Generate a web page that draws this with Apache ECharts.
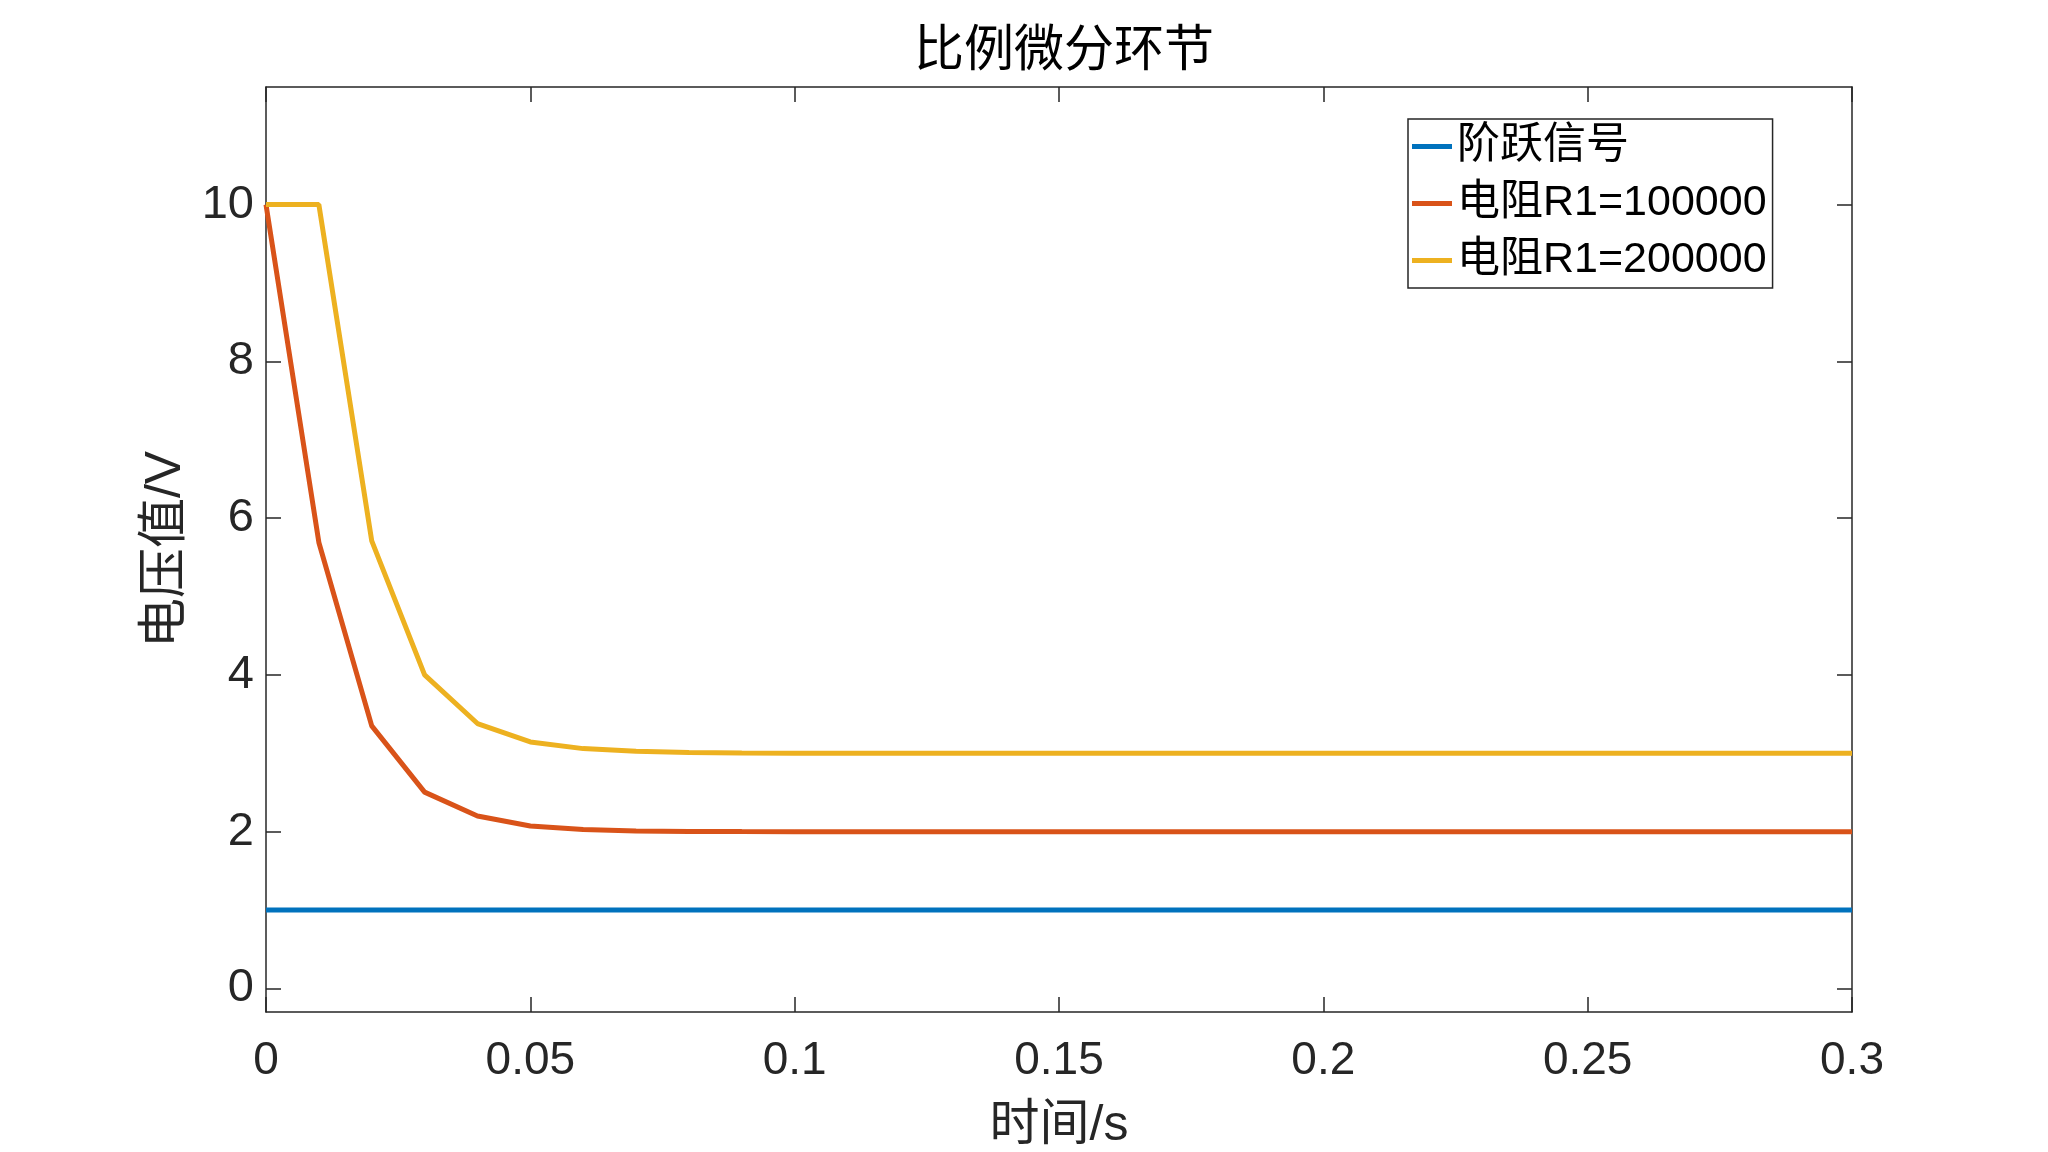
<!DOCTYPE html>
<html>
<head>
<meta charset="utf-8">
<script src="https://cdn.jsdelivr.net/npm/echarts@6/dist/echarts.min.js"></script>
<style>html,body{margin:0;padding:0;background:#fff;}#c{width:2048px;height:1152px;}</style>
</head>
<body>
<div id="c"></div>
<script>
const titleText = '比例微分环节';
const xName = '时间/s';
const yName = '电压值/V';
const seriesNames = ['阶跃信号', '电阻R1=100000', '电阻R1=200000'];
const time = [0, 0.01, 0.02, 0.03, 0.04, 0.05, 0.06, 0.07, 0.08, 0.09, 0.10,
  0.11, 0.12, 0.13, 0.14, 0.15, 0.16, 0.17, 0.18, 0.19, 0.20,
  0.21, 0.22, 0.23, 0.24, 0.25, 0.26, 0.27, 0.28, 0.29, 0.30];
const stepSignal = [1, 1, 1, 1, 1, 1, 1, 1, 1, 1, 1,
  1, 1, 1, 1, 1, 1, 1, 1, 1, 1,
  1, 1, 1, 1, 1, 1, 1, 1, 1, 1];
const r100k = [10, 5.69, 3.35, 2.505, 2.2, 2.072, 2.027, 2.01, 2.004, 2.0015, 2.0005,
  2, 2, 2, 2, 2, 2, 2, 2, 2, 2,
  2, 2, 2, 2, 2, 2, 2, 2, 2, 2];
const r200k = [10, 10, 5.71, 4.0, 3.38, 3.145, 3.06, 3.025, 3.01, 3.004, 3.0015,
  3.0005, 3, 3, 3, 3, 3, 3, 3, 3, 3,
  3, 3, 3, 3, 3, 3, 3, 3, 3, 3];
const xTicks = [0, 0.05, 0.1, 0.15, 0.2, 0.25, 0.3];
const yTicks = [0, 2, 4, 6, 8, 10];

const colors = ['#0072BD', '#D95319', '#EDB120'];
const axisColor = '#262626';
const numFont = '"Liberation Sans Narrow", "Liberation Sans", Arial, sans-serif';
const mixFont = '"Liberation Sans", Arial, "Noto Sans CJK SC", sans-serif';

function pairs(vals) { return time.map((t, i) => [t, vals[i]]); }

const chart = echarts.init(document.getElementById('c'), null, {renderer: 'canvas'});
const baseAxisLine = {show: true, onZero: false, lineStyle: {color: axisColor, width: 1.5}};
chart.setOption({
  backgroundColor: '#fff',
  animation: false,
  color: colors,
  title: {
    text: titleText, left: 1059, textAlign: 'center', top: 17,
    textStyle: {fontFamily: '"Noto Sans CJK SC", sans-serif', fontSize: 50, fontWeight: 'normal', color: '#000'}
  },
  legend: {
    data: seriesNames, orient: 'vertical', left: 1408, top: 119,
    icon: 'rect', itemWidth: 40, itemHeight: 5, itemGap: 14,
    padding: [6, 6, 6, 4],
    borderColor: axisColor, borderWidth: 1.5, backgroundColor: '#fff',
    textStyle: {fontFamily: mixFont, fontSize: 43, color: '#000', padding: [0, 0, 0, 0]}
  },
  grid: {left: 266, right: 196, top: 87, bottom: 140, containLabel: false, outerBoundsMode: 'none'},
  xAxis: [{
    type: 'value', min: 0, max: 0.3, position: 'bottom',
    name: xName, nameLocation: 'middle', nameGap: 89,
    nameTextStyle: {fontFamily: mixFont, fontSize: 50, color: axisColor},
    axisLine: baseAxisLine,
    axisTick: {inside: true, length: 15, customValues: xTicks, lineStyle: {color: axisColor, width: 1.5}},
    axisLabel: {customValues: xTicks, margin: 26, fontFamily: numFont, fontSize: 46, color: axisColor,
      formatter: v => String(+v.toFixed(2))},
    splitLine: {show: false}
  }, {
    type: 'value', min: 0, max: 0.3, position: 'top',
    axisLine: baseAxisLine,
    axisTick: {inside: true, length: 15, customValues: xTicks, lineStyle: {color: axisColor, width: 1.5}},
    axisLabel: {show: false}, splitLine: {show: false}
  }],
  yAxis: [{
    type: 'value', min: -0.3, max: 11.5, position: 'left',
    name: yName, nameLocation: 'middle', nameGap: 64, nameRotate: 90,
    nameTextStyle: {fontFamily: mixFont, fontSize: 50, color: axisColor},
    axisLine: baseAxisLine,
    axisTick: {inside: true, length: 15, customValues: yTicks, lineStyle: {color: axisColor, width: 1.5}},
    axisLabel: {customValues: yTicks, margin: 12, padding: [5, 0, 0, 0], fontFamily: numFont, fontSize: 47, color: axisColor},
    splitLine: {show: false}
  }, {
    type: 'value', min: -0.3, max: 11.5, position: 'right',
    axisLine: baseAxisLine,
    axisTick: {inside: true, length: 15, customValues: yTicks, lineStyle: {color: axisColor, width: 1.5}},
    axisLabel: {show: false}, splitLine: {show: false}
  }],
  series: [
    {name: seriesNames[0], type: 'line', data: pairs(stepSignal), showSymbol: false, symbol: 'none', lineStyle: {width: 5, color: colors[0]}, itemStyle: {color: colors[0]}, z: 3},
    {name: seriesNames[1], type: 'line', data: pairs(r100k), showSymbol: false, symbol: 'none', lineStyle: {width: 5, color: colors[1]}, itemStyle: {color: colors[1]}, z: 4},
    {name: seriesNames[2], type: 'line', data: pairs(r200k), showSymbol: false, symbol: 'none', lineStyle: {width: 5, color: colors[2]}, itemStyle: {color: colors[2]}, z: 5}
  ]
});
</script>
</body>
</html>
